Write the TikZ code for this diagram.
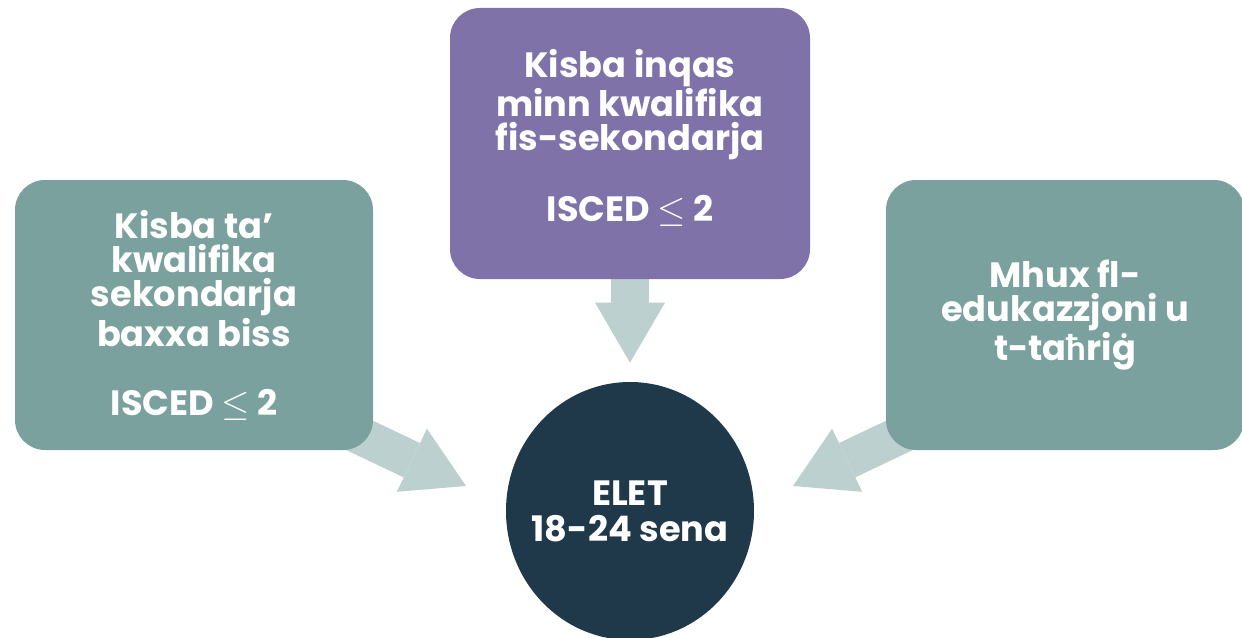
\documentclass[tikz,border=0pt]{standalone}
\usepackage{fontspec}
\setmainfont{Poppins}
\newfontfamily\latinx{Lato}
\usetikzlibrary{shapes.geometric,arrows.meta,backgrounds,calc}

\definecolor{tealbox}{RGB}{123,161,159}
\definecolor{violetbox}{RGB}{126,114,168}
\definecolor{flowgrey}{RGB}{188,209,207}
\definecolor{navy}{RGB}{31,57,75}

\tikzstyle{cause} = [rectangle, rounded corners=0.6cm, text=white,
                     font=\bfseries\fontsize{20}{19.6}\selectfont, align=center,
                     minimum width=7.16cm, minimum height=5.4cm, inner sep=0pt]
\tikzstyle{target} = [ellipse, fill=navy, inner sep=0pt,
                      minimum width=4.96cm, minimum height=5.16cm]
\tikzstyle{target-label} = [text=white, align=center,
                            font=\bfseries\fontsize{20}{20.5}\selectfont]
\tikzstyle{flow} = [draw=flowgrey, line width=0.76cm,
                    -{Triangle[length=1.2cm, width=1.4cm, line width=0pt, fill=flowgrey]}]

\begin{document}
\begin{tikzpicture}
  \useasboundingbox (0,0) rectangle (24.84,-12.76);

  %% Three groups round the centre
  \node (lowsec) [cause, fill=tealbox] at (3.88,-6.3)
    {Kisba ta’\\ kwalifika\\ sekondarja\\ baxxa biss\\[0.69cm] ISCED $\leq$ 2};
  \node (lowest) [cause, fill=violetbox, minimum width=7.2cm, minimum height=5.42cm] at (12.6,-2.87)
    {Kisba inqas\\ minn kwalifika\\ fis-sekondarja\\[0.66cm] ISCED $\leq$ 2\rule[-0.34cm]{0pt}{0pt}};
  \node (neet) [cause, fill=tealbox] at (21.3,-6.3)
    {Mhux fl-\\ edukazzjoni u\\ t-ta{\latinx ħ}riġ};

  \node (elet) [target, label={[target-label]center:ELET\\ 18-24 sena}] at (12.6,-10.22) {};

  %% Arrows in, behind the boxes
  \coordinate (tailL) at (6.0,-8.14);
  \coordinate (tipL) at (9.32,-9.72);
  \coordinate (tailR) at (19.18,-8.14);
  \coordinate (tipR) at (15.86,-9.72);
  \coordinate (tipT) at ($(elet.north)+(0,0.38)$);

  \begin{pgfonlayer}{background}
    \draw [flow] (tailL) to (tipL);
    \draw [flow] (tailR) to (tipR);
    \draw [flow] (lowest.center) to (tipT);
  \end{pgfonlayer}

\end{tikzpicture}
\end{document}
